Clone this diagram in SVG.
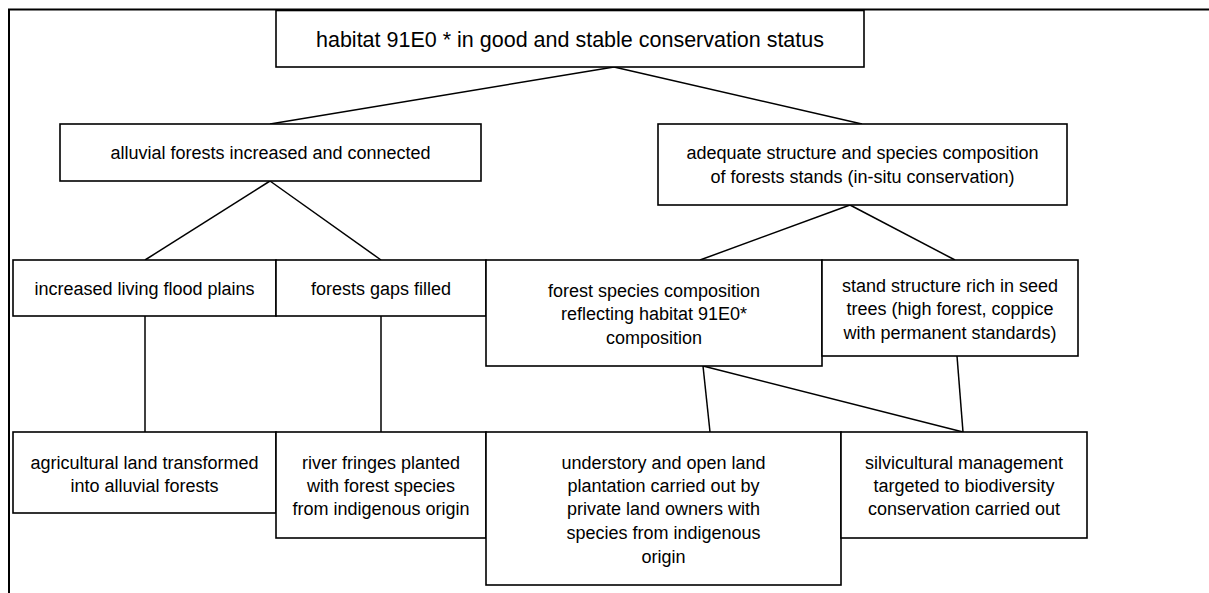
<svg xmlns="http://www.w3.org/2000/svg" width="1209" height="593" viewBox="0 0 1209 593">
<style>
.box{fill:#fff;stroke:#000;stroke-width:1.6}
.t{font-family:"Liberation Sans",Arial,sans-serif;font-size:18px;fill:#000;text-anchor:middle}
.big{font-size:21.5px}
.c{stroke:#000;stroke-width:1.5;fill:none}
.frame{stroke:#000;stroke-width:2;fill:none}
</style>
<rect width="1209" height="593" fill="#fff"/>
<path class="frame" d="M9 593 V9.5 H1209"/>
<g id="connectors">
<line class="c" x1="614" y1="67" x2="270" y2="124"/>
<line class="c" x1="614" y1="67" x2="862" y2="124"/>
<line class="c" x1="270" y1="181" x2="145" y2="260"/>
<line class="c" x1="270" y1="181" x2="381" y2="260"/>
<line class="c" x1="850" y1="205" x2="700" y2="260"/>
<line class="c" x1="850" y1="205" x2="955" y2="260"/>
<line class="c" x1="145" y1="316" x2="145" y2="432"/>
<line class="c" x1="381" y1="316" x2="381" y2="432"/>
<line class="c" x1="703" y1="366" x2="710" y2="432"/>
<line class="c" x1="703" y1="366" x2="963" y2="432"/>
<line class="c" x1="957" y1="356" x2="963" y2="432"/>
</g>
<g id="n_top"><rect class="box" x="276" y="10.5" width="588" height="56.5"/><text class="t big" x="570" y="47">habitat 91E0 * in good and stable conservation status</text></g>
<g id="n_alluvial"><rect class="box" x="60" y="124" width="421" height="57"/><text class="t" x="270.5" y="159">alluvial forests increased and connected</text></g>
<g id="n_adequate"><rect class="box" x="658" y="124" width="409" height="81"/><text class="t" x="862.5" y="159">adequate structure and species composition</text><text class="t" x="862.5" y="183">of forests stands (in-situ conservation)</text></g>
<g id="n_increased"><rect class="box" x="13" y="260" width="263" height="56"/><text class="t" x="144.5" y="295">increased living flood plains</text></g>
<g id="n_gaps"><rect class="box" x="276" y="260" width="210" height="56"/><text class="t" x="381" y="295">forests gaps filled</text></g>
<g id="n_composition"><rect class="box" x="486" y="260" width="336" height="106"/><text class="t" x="654" y="297">forest species composition</text><text class="t" x="654" y="320">reflecting habitat 91E0*</text><text class="t" x="654" y="344">composition</text></g>
<g id="n_stand"><rect class="box" x="822" y="260" width="256" height="96"/><text class="t" x="950" y="292">stand structure rich in seed</text><text class="t" x="950" y="315">trees (high forest, coppice</text><text class="t" x="950" y="339">with permanent standards)</text></g>
<g id="n_agri"><rect class="box" x="13" y="432" width="263" height="81"/><text class="t" x="144.5" y="469">agricultural land transformed</text><text class="t" x="144.5" y="492">into alluvial forests</text></g>
<g id="n_river"><rect class="box" x="276" y="432" width="210" height="106"/><text class="t" x="381" y="469">river fringes planted</text><text class="t" x="381" y="492">with forest species</text><text class="t" x="381" y="515">from indigenous origin</text></g>
<g id="n_understory"><rect class="box" x="486" y="432" width="355" height="153"/><text class="t" x="663.5" y="469">understory and open land</text><text class="t" x="663.5" y="492">plantation carried out by</text><text class="t" x="663.5" y="515">private land owners with</text><text class="t" x="663.5" y="539">species from indigenous</text><text class="t" x="663.5" y="563">origin</text></g>
<g id="n_silvi"><rect class="box" x="841" y="432" width="246" height="106"/><text class="t" x="964" y="469">silvicultural management</text><text class="t" x="964" y="492">targeted to biodiversity</text><text class="t" x="964" y="515">conservation carried out</text></g>
</svg>
